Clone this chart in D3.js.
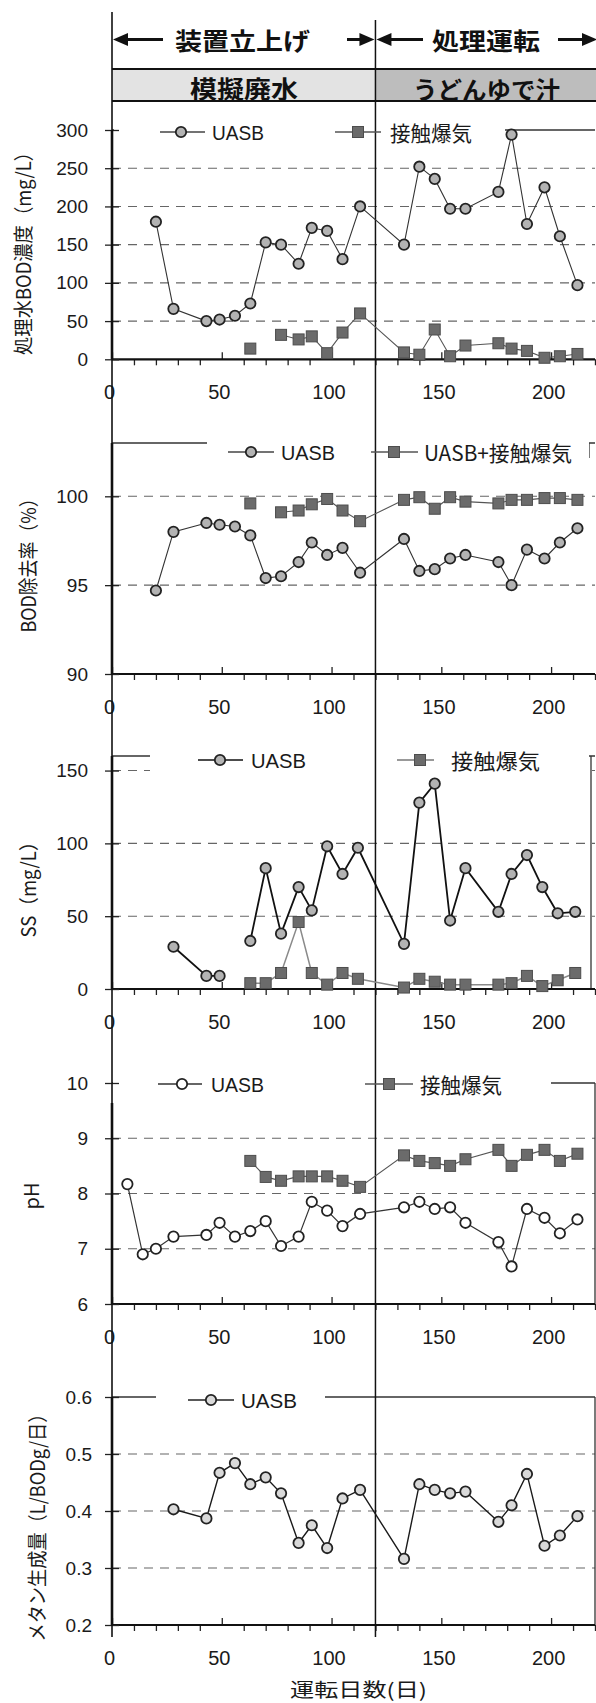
<!DOCTYPE html>
<html>
<head>
<meta charset="utf-8">
<script src="https://cdn.jsdelivr.net/npm/d3@7"></script>
<style>
  body { margin: 0; background: #fff; }
</style>
</head>
<body>
<div id="chart"></div>
<script>
// 1: DATA
const bodDays = [20, 28, 43, 49, 56, 63, 70, 77, 85, 91, 98, 105, 113, 133, 140, 147, 154, 161, 176, 182, 189, 197, 204, 212];
const bodUasb = [180, 66, 50, 52, 57, 73, 153, 150, 125, 172, 168, 131, 200, 150, 252, 236, 197, 197, 219, 294, 177, 225, 161, 97];
const bodAer = [null, null, null, null, null, 14, null, 32, 26, 30, 8, 35, 60, 9, 6, 39, 4, 18, 21, 14, 11, 2, 4, 7];

const remUasb = [94.7, 98.0, 98.5, 98.4, 98.3, 97.8, 95.4, 95.5, 96.3, 97.4, 96.7, 97.1, 95.7, 97.6, 95.8, 95.9, 96.5, 96.7, 96.3, 95.0, 97.0, 96.5, 97.4, 98.2];
const remBoth = [null, null, null, null, null, 99.6, null, 99.1, 99.2, 99.55, 99.85, 99.2, 98.6, 99.8, 99.95, 99.3, 99.95, 99.7, 99.6, 99.8, 99.8, 99.9, 99.9, 99.8];

const ssDays = [28, 43, 49, 56, 63, 70, 77, 85, 91, 98, 105, 112, 133, 140, 147, 154, 161, 176, 182, 189, 196, 203, 211];
const ssUasb = [29, 9, 9, null, 33, 83, 38, 70, 54, 98, 79, 97, 31, 128, 141, 47, 83, 53, 79, 92, 70, 52, 53];
const ssAer = [null, null, null, null, 4, 4, 11, 46, 11, 3, 11, 7, 1, 7, 5, 3, 3, 3, 4, 9, 2, 6, 11];

const phDays = [7, 14, 20, 28, 43, 49, 56, 63, 70, 77, 85, 91, 98, 105, 113, 133, 140, 147, 154, 161, 176, 182, 189, 197, 204, 212];
const phUasb = [8.17, 6.9, 7.0, 7.22, 7.25, 7.47, 7.22, 7.32, 7.5, 7.05, 7.22, 7.85, 7.69, 7.41, 7.63, 7.75, 7.85, 7.72, 7.75, 7.47, 7.12, 6.68, 7.72, 7.56, 7.28, 7.53];
const phAer = [null, null, null, null, null, null, null, 8.59, 8.3, 8.23, 8.31, 8.31, 8.31, 8.23, 8.12, 8.69, 8.59, 8.55, 8.5, 8.62, 8.79, 8.5, 8.7, 8.79, 8.59, 8.72];

const chDays = [28, 43, 49, 56, 63, 70, 77, 85, 91, 98, 105, 113, 133, 140, 147, 154, 161, 176, 182, 189, 197, 204, 212];
const chUasb = [0.403, 0.387, 0.467, 0.484, 0.447, 0.459, 0.431, 0.344, 0.375, 0.335, 0.422, 0.437, 0.316, 0.447, 0.437, 0.431, 0.434, 0.381, 0.41, 0.465, 0.339, 0.357, 0.391];

const xTickLabels = [0, 50, 100, 150, 200];
const stageLabels = ["装置立上げ", "処理運転"];
const feedLabels = ["模擬廃水", "うどんゆで汁"];
const xTitle = "運転日数(日)";

// 2: SETUP
const W = 596, H = 1703;
const latin = "'Liberation Sans', Arial, sans-serif";
const jp = "'Noto Sans CJK JP', sans-serif";
const ink = "#1a1a1a";

const svg = d3.select("#chart").append("svg")
    .attr("width", W)
    .attr("height", H);

const x = d3.scaleLinear().domain([0, 220]).range([112, 595]);
const xMinor = d3.range(10, 221, 10).filter(d => d % 50 !== 0);
const lineTop = 12, lineBottom = 1637;

const series = (days, vals) => days.map((d, i) => ({ day: d, v: vals[i] }));

// 3: PANELS
const panels = [
  { domain: [0, 300], bottom: 359.3, top: 130, major: 50, minor: 10, grid: [50, 100, 150, 200, 250],
    fmt: d3.format("d"), labelRight: 88,
    title: "処理水BOD濃度（mg/L）", titleX: 22, titleY: 249, titleLen: 212,
    cover: [114, 118, 505, 142],
    series: [
      { data: series(bodDays, bodUasb), shape: "circle", fill: "#b3b3b3", line: "#333", lw: 1.1 },
      { data: series(bodDays, bodAer), shape: "square", line: "#555", lw: 1.1 }
    ],
    legend: [
      { shape: "circle", fill: "#b3b3b3", line: "#444", x1: 160, x2: 205, mx: 181, tx: 212, tl: 52, label: "UASB" },
      { shape: "square", line: "#555", x1: 335, x2: 381, mx: 358, tx: 390, tl: 82, label: "接触爆気" }
    ], legendY: 132 },
  { domain: [90, 103], bottom: 674, top: 443, major: 5, minor: 1, grid: [95, 100],
    fmt: d3.format("d"), labelRight: 88,
    title: "BOD除去率（%）", titleX: 27, titleY: 561, titleLen: 143,
    cover: [207, 436, 589, 466], edge: [589, 443, 458],
    series: [
      { data: series(bodDays, remUasb), shape: "circle", fill: "#b3b3b3", line: "#333", lw: 1.1 },
      { data: series(bodDays, remBoth), shape: "square", line: "#555", lw: 1.1 }
    ],
    legend: [
      { shape: "circle", fill: "#b3b3b3", line: "#444", x1: 228, x2: 274, mx: 251, tx: 281, tl: 54, label: "UASB" },
      { shape: "square", line: "#555", x1: 371, x2: 418, mx: 394, tx: 424, tl: 148, label: "UASB+接触爆気" }
    ], legendY: 452 },
  { domain: [0, 160], bottom: 989, top: 756, major: 50, minor: 10, grid: [50, 100, 150],
    fmt: d3.format("d"), labelRight: 88,
    title: "SS（mg/L）", titleX: 27, titleY: 885, titleLen: 105,
    cover: [150, 744, 589, 779], edge: [591, 756, 989],
    series: [
      { data: series(ssDays, ssUasb), shape: "circle", fill: "#b3b3b3", line: "#111", lw: 1.8 },
      { data: series(ssDays, ssAer), shape: "square", line: "#8a8a8a", lw: 1.5 }
    ],
    legend: [
      { shape: "circle", fill: "#b3b3b3", line: "#111", x1: 198, x2: 243, mx: 220, tx: 251, tl: 55, label: "UASB" },
      { shape: "square", line: "#777", x1: 397, x2: 434, mx: 420, tx: 451, tl: 89, label: "接触爆気" }
    ], legendY: 760 },
  { domain: [6, 10], bottom: 1304, top: 1083, major: 1, minor: 0.2, grid: [7, 8, 9],
    fmt: d3.format("d"), labelRight: 88, axisTop: 1103,
    title: "pH", titleX: 30, titleY: 1196, titleLen: 27,
    cover: [113, 1072, 551, 1101], edge: [595, 1083, 1304],
    series: [
      { data: series(phDays, phUasb), shape: "circle", fill: "#fff", line: "#333", lw: 1.2 },
      { data: series(phDays, phAer), shape: "square", line: "#555", lw: 1.2 }
    ],
    legend: [
      { shape: "circle", fill: "#fff", line: "#333", x1: 158, x2: 202, mx: 182, tx: 211, tl: 53, label: "UASB" },
      { shape: "square", line: "#555", x1: 365, x2: 413, mx: 389, tx: 420, tl: 82, label: "接触爆気" }
    ], legendY: 1084 },
  { domain: [0.2, 0.6], bottom: 1625, top: 1397, major: 0.1, minor: 0.02, grid: [0.3, 0.4, 0.5],
    fmt: d3.format(".1f"), labelRight: 92,
    title: "メタン生成量（L/BODg/日）", titleX: 36, titleY: 1523, titleLen: 237,
    cover: [156, 1386, 325, 1412], edge: [595, 1397, 1625],
    series: [
      { data: series(chDays, chUasb), shape: "circle", fill: "#d9d9d9", line: "#1a1a1a", lw: 1.4 }
    ],
    legend: [
      { shape: "circle", fill: "#d9d9d9", line: "#222", x1: 188, x2: 234, mx: 211, tx: 241, tl: 56, label: "UASB" }
    ], legendY: 1400 }
];

function stepValues(d0, d1, step) {
  const n = Math.round((d1 - d0) / step);
  return d3.range(n + 1).map(i => +(d0 + i * step).toFixed(4));
}

function drawMarker(g, shape, cx, cy, fill) {
  if (shape === "circle") {
    g.append("circle")
        .attr("cx", cx).attr("cy", cy).attr("r", 5.2)
        .attr("fill", fill).attr("stroke", "#222").attr("stroke-width", 1.8);
  } else {
    g.append("rect")
        .attr("x", cx - 5.5).attr("y", cy - 5.5)
        .attr("width", 11).attr("height", 11)
        .attr("fill", "#6b6b6b").attr("stroke", "#4d4d4d").attr("stroke-width", 1);
  }
}

function drawPanel(p) {
  const y = d3.scaleLinear().domain(p.domain).range([p.bottom, p.top]);
  const g = svg.append("g");

  // dashed gridlines
  g.selectAll(".grid").data(p.grid).join("line")
      .attr("x1", x(0)).attr("x2", x(220))
      .attr("y1", d => y(d)).attr("y2", d => y(d))
      .attr("stroke", "#666").attr("stroke-width", 1.1)
      .attr("stroke-dasharray", "9,7");

  // top frame line
  g.append("line")
      .attr("x1", x(0)).attr("x2", x(220))
      .attr("y1", y(p.domain[1])).attr("y2", y(p.domain[1]))
      .attr("stroke", "#333").attr("stroke-width", 1.3);

  if (p.edge) {
    g.append("line")
        .attr("x1", p.edge[0]).attr("x2", p.edge[0])
        .attr("y1", p.edge[1]).attr("y2", p.edge[2])
        .attr("stroke", "#333").attr("stroke-width", 1.3);
  }

  // white legend area
  g.append("rect")
      .attr("x", p.cover[0]).attr("y", p.cover[1])
      .attr("width", p.cover[2] - p.cover[0]).attr("height", p.cover[3] - p.cover[1])
      .attr("fill", "#fff");

  // x axis: minor ticks outside, major ticks inside
  const xa = g.append("g").attr("transform", `translate(0,${p.bottom})`);
  xa.call(d3.axisBottom(x).tickValues(xMinor).tickSize(6).tickSizeOuter(0).tickFormat(""));
  xa.call(g2 => g2.select(".domain").remove());
  const xb = g.append("g").attr("transform", `translate(0,${p.bottom})`);
  xb.call(d3.axisTop(x).tickValues(xTickLabels).tickSize(7).tickSizeOuter(0).tickFormat(""));
  xb.call(g2 => g2.select(".domain").remove());
  g.selectAll(".tick line").attr("stroke", "#222").attr("stroke-width", 1.3);

  const xl = g.append("g").attr("transform", `translate(-3,${p.bottom})`);
  xl.call(d3.axisBottom(x).tickValues(xTickLabels).tickSize(0).tickPadding(26).tickFormat(d3.format("d")));
  xl.call(g2 => g2.select(".domain").remove());
  xl.attr("font-size", 20).attr("font-family", latin);
  xl.selectAll("text").attr("fill", ink);

  g.append("line")
      .attr("x1", x(0)).attr("x2", x(220))
      .attr("y1", p.bottom).attr("y2", p.bottom)
      .attr("stroke", "#111").attr("stroke-width", 2.2);

  // y axis
  const all = stepValues(p.domain[0], p.domain[1], p.minor);
  const isMajor = v => {
    const k = (v - p.domain[0]) / p.major;
    return Math.abs(k - Math.round(k)) < 1e-6;
  };
  const majors = all.filter(isMajor);
  const minors = all.filter(v => !isMajor(v));

  const ya = g.append("g").attr("transform", `translate(${x(0)},0)`);
  ya.call(d3.axisRight(y).tickValues(minors).tickSize(6).tickSizeOuter(0).tickFormat(""));
  ya.call(d3.axisRight(y).tickValues(majors).tickSize(7).tickSizeOuter(0).tickFormat(""));
  ya.selectAll(".domain").remove();
  const yb = g.append("g").attr("transform", `translate(${x(0)},0)`);
  yb.call(d3.axisLeft(y).tickValues(majors).tickSize(7).tickSizeOuter(0).tickFormat(""));
  yb.selectAll(".domain").remove();
  g.selectAll(".tick line").attr("stroke", "#222").attr("stroke-width", 1.3);

  const yl = g.append("g").attr("transform", `translate(${p.labelRight},0)`);
  yl.call(d3.axisLeft(y).tickValues(majors).tickSize(0).tickPadding(0).tickFormat(p.fmt));
  yl.selectAll(".domain").remove();
  yl.attr("font-size", 19).attr("font-family", latin);
  yl.selectAll("text").attr("fill", ink);

  g.append("line")
      .attr("x1", x(0)).attr("x2", x(0))
      .attr("y1", p.axisTop || y(p.domain[1])).attr("y2", p.bottom)
      .attr("stroke", "#111").attr("stroke-width", 2.6);

  // y title
  g.append("text")
      .attr("transform", `translate(${p.titleX},${p.titleY}) rotate(-90)`)
      .attr("text-anchor", "middle")
      .attr("dominant-baseline", "central")
      .attr("font-family", jp)
      .attr("font-size", 20)
      .attr("textLength", p.titleLen)
      .attr("lengthAdjust", "spacingAndGlyphs")
      .attr("fill", ink)
      .text(p.title);

  p.y = y;
  p.g = g;
}

panels.forEach(drawPanel);

// 4: HEADER + long vertical lines
const head = svg.append("g");

function arrow(tail, tip, yy) {
  const dir = tip > tail ? 1 : -1;
  head.append("line")
      .attr("x1", tail).attr("x2", tip - dir * 12)
      .attr("y1", yy).attr("y2", yy)
      .attr("stroke", "#111").attr("stroke-width", 3);
  head.append("path")
      .attr("d", `M${tip},${yy} L${tip - dir * 15},${yy - 6.5} L${tip - dir * 15},${yy + 6.5} Z`)
      .attr("fill", "#111");
}

const sep = x(120);
arrow(163, 113, 39.5);
arrow(347, sep - 1, 39.5);
arrow(423, sep + 1, 39.5);
arrow(558, 597, 39.5);

head.append("text")
    .attr("x", 175).attr("y", 39.5)
    .attr("dominant-baseline", "central")
    .attr("font-family", jp).attr("font-weight", 700).attr("font-size", 24)
    .attr("textLength", 135).attr("lengthAdjust", "spacingAndGlyphs")
    .attr("fill", "#111")
    .text(stageLabels[0]);
head.append("text")
    .attr("x", 432).attr("y", 39.5)
    .attr("dominant-baseline", "central")
    .attr("font-family", jp).attr("font-weight", 700).attr("font-size", 24)
    .attr("textLength", 108).attr("lengthAdjust", "spacingAndGlyphs")
    .attr("fill", "#111")
    .text(stageLabels[1]);

head.append("rect")
    .attr("x", x(0)).attr("y", 69)
    .attr("width", sep - x(0)).attr("height", 32)
    .attr("fill", "#e3e3e3");
head.append("rect")
    .attr("x", sep).attr("y", 69)
    .attr("width", W - sep).attr("height", 32)
    .attr("fill", "#bdbdbd");
[69, 101].forEach(yy => head.append("line")
    .attr("x1", x(0)).attr("x2", W).attr("y1", yy).attr("y2", yy)
    .attr("stroke", "#111").attr("stroke-width", 1.8));

head.append("text")
    .attr("x", 244).attr("y", 87)
    .attr("text-anchor", "middle").attr("dominant-baseline", "central")
    .attr("font-family", jp).attr("font-weight", 700).attr("font-size", 24)
    .attr("textLength", 108).attr("lengthAdjust", "spacingAndGlyphs")
    .attr("fill", "#111")
    .text(feedLabels[0]);
head.append("text")
    .attr("x", 486.5).attr("y", 88)
    .attr("text-anchor", "middle").attr("dominant-baseline", "central")
    .attr("font-family", jp).attr("font-weight", 700).attr("font-size", 24)
    .attr("textLength", 147).attr("lengthAdjust", "spacingAndGlyphs")
    .attr("fill", "#111")
    .text(feedLabels[1]);

svg.append("line")
    .attr("x1", x(0)).attr("x2", x(0)).attr("y1", lineTop).attr("y2", lineBottom)
    .attr("stroke", "#111").attr("stroke-width", 1.6);
svg.append("line")
    .attr("x1", sep).attr("x2", sep).attr("y1", 20).attr("y2", lineBottom)
    .attr("stroke", "#111").attr("stroke-width", 1.5);

// x axis title
svg.append("text")
    .attr("x", 358.5).attr("y", 1688)
    .attr("text-anchor", "middle").attr("dominant-baseline", "central")
    .attr("font-family", jp).attr("font-size", 19)
    .attr("textLength", 137).attr("lengthAdjust", "spacingAndGlyphs")
    .attr("fill", ink)
    .text(xTitle);

// 5: LEGENDS + DATA
panels.forEach(p => {
  const g = svg.append("g");
  p.legend.forEach(l => {
    g.append("line")
        .attr("x1", l.x1).attr("x2", l.x2)
        .attr("y1", p.legendY).attr("y2", p.legendY)
        .attr("stroke", l.line).attr("stroke-width", 1.3);
    drawMarker(g, l.shape, l.mx, p.legendY, l.fill);
    g.append("text")
        .attr("x", l.tx).attr("y", p.legendY)
        .attr("dominant-baseline", "central")
        .attr("font-family", l.label === "UASB" ? latin : jp)
        .attr("font-size", 21)
        .attr("textLength", l.tl).attr("lengthAdjust", "spacingAndGlyphs")
        .attr("fill", ink)
        .text(l.label);
  });

  p.series.forEach(s => {
    const line = d3.line()
        .defined(d => d.v != null)
        .x(d => x(d.day))
        .y(d => p.y(d.v));
    g.append("path")
        .datum(s.data)
        .attr("fill", "none")
        .attr("stroke", s.line)
        .attr("stroke-width", s.lw)
        .attr("d", line);
    s.data.filter(d => d.v != null).forEach(d => drawMarker(g, s.shape, x(d.day), p.y(d.v), s.fill));
  });
});
</script>
</body>
</html>
